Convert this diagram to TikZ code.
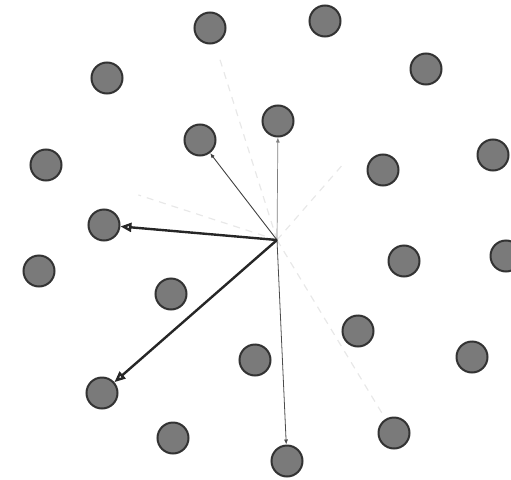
\documentclass[tikz,border=0pt]{standalone}
\usepackage{tikz}
\usetikzlibrary{arrows.meta,calc}
\tikzset{
  site/.style={circle,draw=black!80,line width=2pt,fill=black!52,minimum size=31pt,inner sep=0pt},
  faint/.style={black!9,line width=1.2pt,dash pattern=on 7pt off 6pt},
  thinarr/.style={->,>={Latex[length=5pt,width=4pt]},line width=0.9pt},
  thickarr/.style={->,>={Triangle[open,length=11pt,width=9pt]},line width=2.4pt,black!85}
}
\begin{document}
\begin{tikzpicture}[x=1pt,y=-1pt]
\useasboundingbox (0,0) rectangle (511,479);
\foreach \n/\x/\y in {1/210/28,2/325/21,3/107/78,4/426/69,5/200/140,6/278/121,7/46/165,8/383/170,9/493/155,10/104/225,11/39/271,12/171/294,13/404/261,14/506/256,15/358/331,16/255/360,17/472/357,18/102/393,19/173/438,20/394/433,21/287/461}
  \node[site] (c\n) at (\x,\y) {};
\coordinate (o) at (277,240);
% faint candidates
\foreach \t/\s in {1/0.85,7/0.6,4/0.45,20/0.9}
  \draw[faint] (o) -- ($(o)!\s!(c\t)$);
% chosen links
\draw[thinarr,black!75] (o) -- (c5);
\draw[thinarr,black!50,line width=0.7pt] (o) -- (c6);
\draw[thinarr,black!70,line width=0.8pt] (o) -- (c21);
\draw[thickarr] (o) -- (c10);
\draw[thickarr] (o) -- (c18);
\end{tikzpicture}
\end{document}
